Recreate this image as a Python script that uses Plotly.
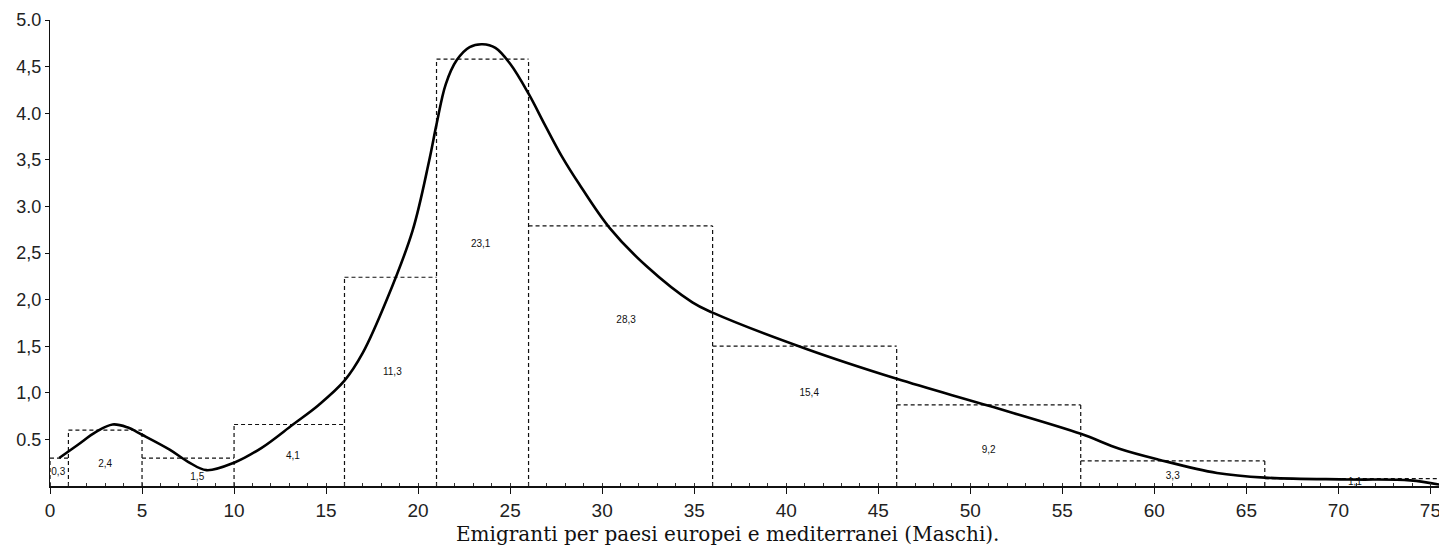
import plotly.graph_objects as go

# Histogram classes (age intervals) and drawn heights (per-year density)
bin_edges = [0, 1, 5, 10, 16, 21, 26, 36, 46, 56, 66, 76]
bin_heights = [0.30, 0.60, 0.30, 0.66, 2.24, 4.58, 2.79, 1.50, 0.87, 0.27, 0.08]
bin_pct_labels = ["0,3", "2,4", "1,5", "4,1", "11,3", "23,1", "28,3", "15,4", "9,2", "3,3", "1,1"]
label_x = [0.45, 3.0, 8.0, 13.2, 18.6, 23.4, 31.3, 41.25, 51.0, 61.0, 70.9]
label_y = [0.15, 0.23, 0.09, 0.32, 1.22, 2.59, 1.78, 0.99, 0.38, 0.10, 0.04]

# Smoothed frequency curve
curve_x = [0.5, 1.5, 2.5, 3.4, 4.2, 5.0, 6.5, 7.5, 8.5, 10.0, 11.5, 13.2, 14.6, 16.0,
           17.0, 18.3, 19.7, 20.6, 21.0, 21.5, 22.1, 22.8, 23.5, 24.2, 25.0, 26.0,
           26.9, 27.8, 28.75, 30.4, 32.4, 34.9, 36.0, 41.1, 46.0, 51.0, 56.0, 58.1,
           60.3, 63.4, 66.0, 70.6, 73.9, 75.9]
curve_y = [0.30, 0.44, 0.58, 0.66, 0.63, 0.55, 0.39, 0.26, 0.17, 0.25, 0.41, 0.66, 0.87, 1.13,
           1.43, 2.00, 2.74, 3.49, 3.88, 4.31, 4.57, 4.71, 4.74, 4.70, 4.53, 4.21,
           3.87, 3.54, 3.24, 2.77, 2.36, 1.97, 1.86, 1.47, 1.15, 0.86, 0.56, 0.40,
           0.28, 0.14, 0.09, 0.07, 0.06, 0.0]

x_ticks = list(range(0, 80, 5))
y_ticks = [0.5, 1.0, 1.5, 2.0, 2.5, 3.0, 3.5, 4.0, 4.5, 5.0]
y_tick_text = ["0.5", "1,0", "1,5", "2,0", "2,5", "3.0", "3,5", "4.0", "4,5", "5.0"]
x_label = "Emigranti per paesi europei e mediterranei (Maschi)."

# Dashed outline of the histogram: top edges + shared vertical edges
rx, ry = [], []
for i, h in enumerate(bin_heights):
    rx += [bin_edges[i], bin_edges[i + 1], None]
    ry += [h, h, None]
for j, e in enumerate(bin_edges):
    left = bin_heights[j - 1] if j > 0 else 0
    right = bin_heights[j] if j < len(bin_heights) else 0
    top = max(left, right)
    rx += [e, e, None]
    ry += [0, top, None]

fig = go.Figure()
fig.add_trace(go.Scatter(x=rx, y=ry, mode="lines",
                         line=dict(color="#111", width=1.2, dash="4px,3px"),
                         hoverinfo="skip", showlegend=False))
fig.add_trace(go.Scatter(x=curve_x, y=curve_y, mode="lines",
                         line=dict(color="#000", width=2.6, shape="spline", smoothing=1.0),
                         showlegend=False))
fig.add_trace(go.Scatter(x=label_x, y=label_y, mode="text", text=bin_pct_labels,
                         textfont=dict(family="Liberation Sans", size=10, color="#111"),
                         showlegend=False, hoverinfo="skip"))

# right frame line
fig.add_shape(type="line", xref="x", yref="paper", x0=75.7, x1=75.7, y0=0, y1=1.04,
              line=dict(color="#222", width=1.5))

fig.add_annotation(x=36.8, y=-0.104, xref="x", yref="paper", text=x_label, showarrow=False,
                   font=dict(family="DejaVu Serif", size=20, color="#111"),
                   xanchor="center", yanchor="middle")

# Canvas is offset 8px by the page body margin, so size/margins compensate
fig.update_layout(
    width=1439, height=546,
    margin=dict(l=42, r=0, t=12, b=68, autoexpand=False),
    paper_bgcolor="white", plot_bgcolor="white",
    showlegend=False,
)
fig.update_xaxes(range=[0, 75.9], tickvals=x_ticks, ticktext=[str(v) for v in x_ticks],
                 showgrid=False, zeroline=False, showline=True, linecolor="#111", linewidth=1.6,
                 ticks="outside", ticklen=6, tickcolor="#111",
                 minor=dict(ticks="inside", dtick=1, ticklen=3, tickcolor="#333"),
                 tickfont=dict(family="Liberation Sans", size=19, color="#222"),
                 ticklabeloverflow="allow", automargin=False)
fig.update_yaxes(range=[0, 5.0], tickvals=y_ticks, ticktext=y_tick_text,
                 showgrid=False, zeroline=False, showline=True, linecolor="#111", linewidth=1.4,
                 ticks="outside", ticklen=4, tickcolor="#111",
                 tickfont=dict(family="Liberation Sans", size=18, color="#222"),
                 ticklabeloverflow="allow", automargin=False)

fig.write_html("out.html")
